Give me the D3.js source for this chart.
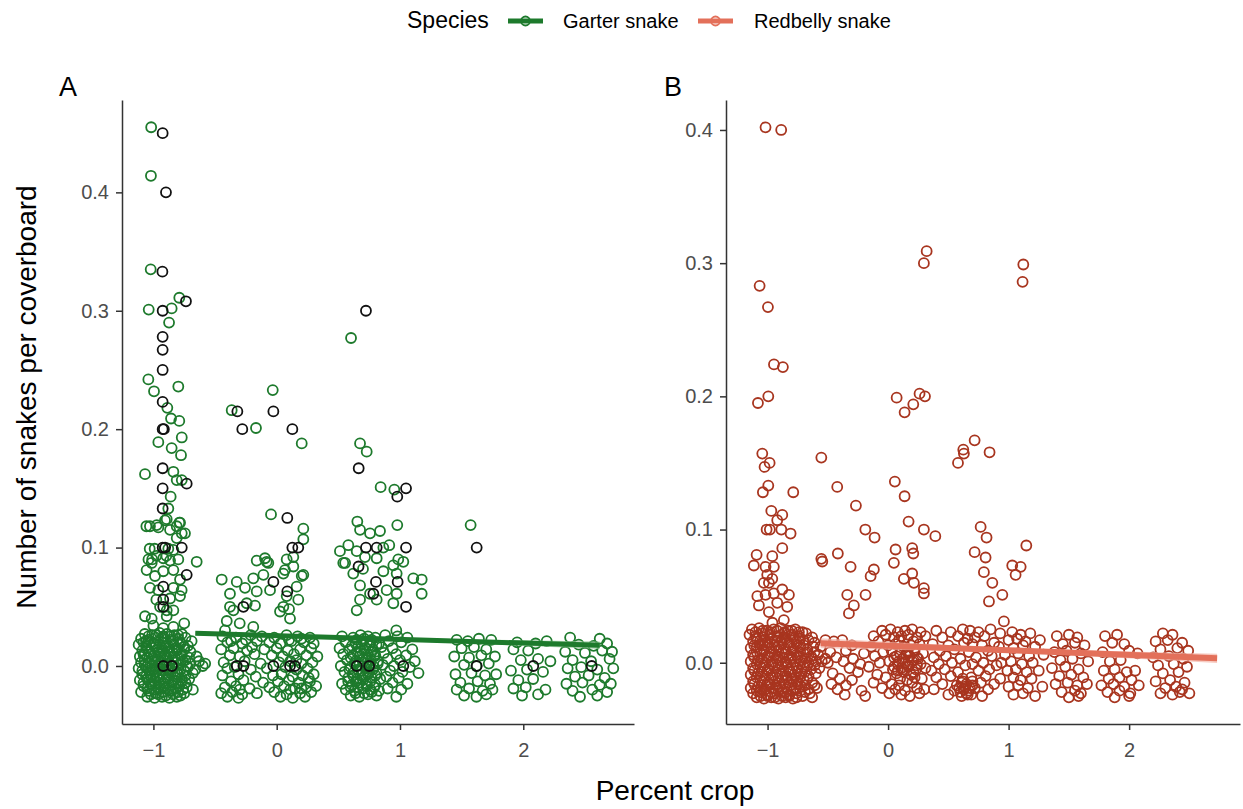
<!DOCTYPE html>
<html><head><meta charset="utf-8">
<script src="https://cdn.jsdelivr.net/npm/d3@7"></script>
<style>body{margin:0;background:#fff;} text{font-family:"Liberation Sans", Arial, sans-serif;}</style>
</head><body><svg id="c" width="1243" height="809"></svg>
<script>
const speciesNames = ["Garter snake", "Redbelly snake"];
const xTickValues = [-1, 0, 1, 2];
const yTickValues = [0.0, 0.1, 0.2, 0.3, 0.4];
const panelTags = ["A", "B"];

// Panel A: garter snake observations (green)
const garterUpper = [
[-1.018,.455],[-1.020,.414],[-1.022,.335],[-1.038,.301],[-0.852,.302],[-0.790,.311],[-0.873,.290],
[-1.041,.242],[-0.798,.236],[-0.995,.232],[-0.887,.218],[-0.857,.209],[-0.790,.207],[-0.770,.193],[-0.960,.189],[-0.852,.184],[-0.776,.178],[-1.068,.162],[-0.838,.164],[-0.811,.157],[-0.770,.157],[-0.860,.143],[-0.879,.133],[-0.906,.123],[-0.790,.121],[-1.028,.118],[-0.960,.117],[-0.811,.118],[-0.744,.112],[-0.811,.108],
[-1.030,.099],[-0.990,.099],[-0.879,.099],[-0.838,.098],[-1.040,.090],[-1.010,.090],[-0.920,.091],[-0.865,.089],[-0.798,.090],[-0.649,.088],
[-1.057,.118],[-0.973,.119],[-0.892,.124],[-0.784,.121],[-0.865,.115],[-0.770,.112],[-0.976,.093],[-0.895,.093],[-1.014,.087],[-1.055,.081],[-0.987,.076],[-0.920,.080],[-0.838,.081],[-0.784,.073],[-1.028,.066],[-0.960,.064],[-0.838,.066],[-0.771,.064],[-0.976,.056],[-0.865,.057],[-0.784,.059],[-1.068,.042],[-1.014,.040],[-0.946,.050],[-0.892,.047],[-0.838,.047],[-0.920,.032],[-0.838,.033],[-0.892,.042],[-0.750,.036],[-1.000,.034],
[-0.365,.216],[-0.032,.233],[-0.168,.201],[0.203,.188],[-0.046,.128],[0.216,.116],[0.216,.107],[-0.162,.089],[-0.095,.091],[-0.068,.087],[0.081,.090],[0.135,.092],
[-0.446,.073],[-0.324,.071],[-0.379,.061],[-0.351,.047],[-0.405,.038],[-0.419,.030],[-0.176,.051],[-0.162,.063],[-0.190,.074],[-0.108,.077],[-0.257,.066],[-0.243,.053],[-0.054,.064],[0.054,.078],[0.135,.084],[0.216,.077],[0.162,.067],[0.081,.059],[0.027,.046],[0.108,.040],[-0.379,.050],[0.067,.081],[0.203,.076],[0.175,.056],[0.054,.050],[-0.190,.033],[-0.081,.088],[0.100,.048],[-0.300,.036],
[0.603,.277],[0.676,.188],[0.730,.181],[0.843,.151],[0.954,.149],[0.654,.122],[0.676,.115],[0.757,.112],[0.838,.114],[0.978,.119],[1.573,.119],[0.581,.102],[0.513,.097],[0.649,.097],[0.716,.092],[0.811,.091],[0.913,.102],[0.865,.100],[0.986,.090],[0.555,.087],
[0.540,.087],[0.621,.078],[0.700,.082],[0.865,.080],[0.946,.085],[0.676,.068],[0.757,.061],[0.892,.064],[0.973,.061],[0.676,.056],[0.649,.047],[0.811,.056],[0.946,.053],[1.108,.074],[1.176,.073],[1.176,.061],[0.973,.078],[1.027,.088],[0.970,.030]
];
const garterLower = [
[-1.07,.027],[-1.01,.026],[-0.95,.028],[-0.89,.027],[-0.83,.026],[-0.77,.027],
[-1.10,.023],[-1.04,.022],[-0.98,.024],[-0.92,.023],[-0.86,.022],[-0.80,.023],[-0.74,.024],[-0.69,.021],
[-1.12,.018],[-1.06,.017],[-1.00,.019],[-0.95,.018],[-0.90,.017],[-0.84,.018],[-0.78,.019],[-0.72,.017],
[-1.09,.013],[-1.03,.012],[-0.97,.014],[-0.92,.013],[-0.87,.012],[-0.81,.013],[-0.75,.014],[-0.70,.012],
[-1.11,.008],[-1.05,.007],[-0.99,.009],[-0.94,.008],[-0.89,.007],[-0.83,.008],[-0.77,.009],[-0.71,.007],[-0.65,.008],
[-1.10,.003],[-1.04,.002],[-0.98,.004],[-0.93,.003],[-0.87,.002],[-0.82,.003],[-0.76,.004],[-0.70,.002],[-0.63,.004],[-0.58,.002],
[-1.12,-.002],[-1.06,-.001],[-1.00,-.003],[-0.95,-.002],[-0.90,-.001],[-0.84,-.002],[-0.78,-.003],[-0.72,-.001],[-0.66,-.003],[-0.60,.000],
[-1.09,-.007],[-1.03,-.006],[-0.97,-.008],[-0.92,-.007],[-0.86,-.006],[-0.80,-.007],[-0.74,-.008],[-0.68,-.006],
[-1.11,-.012],[-1.05,-.011],[-0.99,-.013],[-0.94,-.012],[-0.88,-.011],[-0.83,-.012],[-0.77,-.013],[-0.71,-.011],
[-1.08,-.017],[-1.02,-.016],[-0.96,-.018],[-0.91,-.017],[-0.85,-.016],[-0.79,-.017],[-0.73,-.018],[-0.68,-.020],
[-1.10,-.022],[-1.04,-.021],[-0.98,-.023],[-0.92,-.022],[-0.86,-.021],[-0.80,-.022],[-0.75,-.023],
[-1.05,-.026],[-0.99,-.027],[-0.93,-.026],[-0.87,-.027],[-0.81,-.026],
[-1.06,.021],[-0.96,.011],[-0.85,.005],[-1.02,-.009],[-0.90,-.019],[-0.97,.000],[-0.88,.015],[-1.07,.010],
[-0.44,.025],[-0.33,.024],[-0.21,.026],[-0.12,.025],[-0.02,.024],[0.08,.026],[0.17,.025],[0.27,.024],
[-0.40,.020],[-0.28,.019],[-0.16,.021],[-0.06,.020],[0.03,.019],[0.12,.021],[0.22,.020],[0.30,.019],
[-0.45,.014],[-0.35,.015],[-0.24,.013],[-0.10,.014],[0.00,.015],[0.09,.013],[0.19,.014],[0.28,.015],
[-0.38,.009],[-0.30,.008],[-0.18,.010],[-0.04,.009],[0.05,.008],[0.14,.010],[0.24,.009],[0.33,.008],
[-0.43,.003],[-0.26,.004],[-0.13,.002],[0.02,.003],[0.11,.004],[0.20,.002],[0.29,.003],
[-0.40,-.002],[-0.34,-.001],[-0.21,-.003],[-0.08,-.002],[0.07,-.001],[0.16,-.003],[0.25,-.002],
[-0.44,-.008],[-0.31,-.007],[-0.17,-.009],[-0.03,-.008],[0.04,-.007],[0.13,-.009],[0.21,-.008],[0.30,-.007],
[-0.37,-.013],[-0.27,-.012],[-0.11,-.014],[0.01,-.013],[0.10,-.012],[0.18,-.014],[0.27,-.013],
[-0.42,-.018],[-0.33,-.017],[-0.22,-.019],[-0.06,-.018],[0.06,-.017],[0.15,-.019],[0.24,-.018],[0.32,-.017],
[-0.45,-.023],[-0.36,-.022],[-0.28,-.024],[-0.16,-.023],[-0.02,-.022],[0.08,-.024],[0.19,-.023],[0.28,-.022],
[-0.40,-.026],[-0.31,-.027],[0.03,-.026],[0.13,-.027],[0.23,-.026],
[-0.37,.021],[-0.25,.022],[0.10,.022],[0.20,.023],[-0.30,-.020],[0.11,-.020],[0.20,-.019],[0.16,.005],[0.26,-.010],[-0.20,.016],
[0.53,.025],[0.62,.024],[0.68,.026],[0.74,.025],[0.80,.024],[0.88,.026],[0.98,.025],[1.06,.024],
[0.56,.020],[0.64,.019],[0.70,.021],[0.76,.020],[0.83,.019],[0.91,.021],[1.01,.020],
[0.51,.015],[0.59,.014],[0.66,.016],[0.72,.015],[0.78,.014],[0.85,.016],[0.94,.015],[1.10,.014],
[0.54,.010],[0.62,.009],[0.68,.011],[0.74,.010],[0.80,.009],[0.87,.011],[0.97,.010],[1.05,.009],
[0.57,.005],[0.64,.004],[0.70,.006],[0.76,.005],[0.82,.004],[0.90,.006],[1.00,.005],[1.12,.004],
[0.52,.000],[0.60,-.001],[0.67,.001],[0.73,.000],[0.79,-.001],[0.86,.001],[0.95,.000],[1.08,-.001],
[0.55,-.005],[0.62,-.006],[0.69,-.004],[0.75,-.005],[0.81,-.006],[0.92,-.004],[1.02,-.005],[1.15,-.006],
[0.58,-.010],[0.65,-.011],[0.71,-.009],[0.77,-.010],[0.84,-.011],[0.89,-.009],[0.99,-.010],
[0.53,-.015],[0.61,-.016],[0.67,-.014],[0.73,-.015],[0.80,-.016],[0.94,-.014],[1.06,-.015],
[0.56,-.020],[0.63,-.021],[0.70,-.019],[0.76,-.020],[0.83,-.021],[0.90,-.019],[1.01,-.020],
[0.60,-.025],[0.67,-.026],[0.74,-.024],[0.81,-.025],[0.97,-.026],
[1.46,.022],[1.55,.021],[1.64,.023],[1.74,.022],[1.50,.015],[1.60,.016],[1.70,.014],
[1.44,.008],[1.56,.007],[1.66,.009],[1.77,.008],[1.52,.001],[1.62,.000],[1.72,.002],
[1.45,-.007],[1.58,-.006],[1.69,-.008],[1.78,-.007],[1.49,-.014],[1.63,-.013],[1.73,-.015],
[1.46,-.020],[1.56,-.019],[1.67,-.021],[1.75,-.020],[1.52,-.025],[1.62,-.026],[1.70,-.024],
[1.95,.020],[2.10,.019],[2.19,.021],[1.92,.014],[2.04,.013],[1.98,.005],[2.12,.006],[2.22,.004],
[1.90,-.004],[2.03,-.003],[2.16,-.005],[1.96,-.012],[2.08,-.011],[1.92,-.019],[2.02,-.018],[2.18,-.020],
[1.99,-.025],[2.12,-.024],
[2.38,.024],[2.62,.023],[2.45,.018],[2.57,.017],[2.68,.019],[2.34,.012],[2.50,.011],[2.64,.013],[2.72,.012],
[2.40,.005],[2.55,.004],[2.70,.006],[2.36,-.002],[2.47,-.001],[2.60,-.003],[2.73,-.002],
[2.42,-.009],[2.53,-.008],[2.66,-.010],[2.35,-.015],[2.48,-.014],[2.62,-.016],[2.71,-.015],
[2.40,-.021],[2.56,-.020],[2.68,-.022],[2.46,-.026],[2.60,-.025]
];
// denser cores of the zero-count groups in panel A
const garterDense = [
[-1.04,.025],[-0.98,.026],[-0.92,.025],[-0.86,.025],[-0.80,.026],
[-1.08,.020],[-1.02,.020],[-0.96,.021],[-0.90,.020],[-0.84,.021],[-0.78,.020],
[-1.05,.015],[-0.99,.016],[-0.93,.015],[-0.87,.016],[-0.81,.015],[-0.75,.016],
[-1.08,.010],[-1.02,.010],[-0.94,.011],[-0.90,.010],[-0.84,.011],[-0.78,.010],
[-1.07,.005],[-1.01,.006],[-0.96,.005],[-0.91,.005],[-0.80,.006],[-0.74,.005],
[-1.07,.001],[-1.01,.000],[-0.95,.001],[-0.89,.001],[-0.84,.000],[-0.79,.001],[-0.73,.000],
[-1.09,-.004],[-1.03,-.004],[-0.98,-.005],[-0.92,-.004],[-0.87,-.004],[-0.81,-.005],[-0.75,-.004],
[-1.06,-.009],[-1.00,-.010],[-0.95,-.009],[-0.89,-.010],[-0.83,-.009],[-0.77,-.010],
[-1.08,-.014],[-1.02,-.015],[-0.96,-.014],[-0.91,-.015],[-0.85,-.014],[-0.80,-.015],[-0.74,-.014],
[-1.05,-.019],[-0.99,-.020],[-0.94,-.019],[-0.88,-.020],[-0.82,-.019],[-0.76,-.020],
[-1.02,-.024],[-0.96,-.024],[-0.90,-.025],[-0.84,-.024],[-0.78,-.025],
[0.65,.022],[0.71,.023],[0.77,.022],[0.61,.017],[0.69,.018],[0.75,.017],[0.81,.018],
[0.65,.012],[0.71,.013],[0.77,.012],[0.60,.007],[0.67,.008],[0.73,.007],[0.79,.008],
[0.63,.002],[0.70,.003],[0.76,.002],[0.82,.002],[0.59,-.003],[0.66,-.003],[0.72,-.002],[0.78,-.003],
[0.62,-.008],[0.68,-.008],[0.74,-.007],[0.80,-.008],[0.58,-.013],[0.64,-.013],[0.70,-.012],[0.76,-.013],
[0.60,-.018],[0.66,-.018],[0.73,-.017],[0.79,-.018],[0.64,-.023],[0.71,-.023],[0.77,-.022]
];
// Panel A: highlighted observations (black)
const garterHighlight = [
[-0.925,.450],[-0.898,.400],[-0.927,.333],[-0.925,.300],[-0.736,.308],[-0.925,.278],[-0.925,.267],[-0.925,.250],[-0.925,.223],[-0.925,.200],[-0.915,.200],[-0.730,.154],[-0.925,.167],[-0.925,.150],[-0.925,.133],[-0.925,.100],[-0.770,.100],[-0.905,.100],[-0.730,.077],[-0.920,.067],[-0.920,.056],[-0.920,.050],
[-0.319,.215],[-0.027,.215],[-0.279,.200],[0.127,.200],[0.086,.125],[0.127,.100],[0.175,.100],[-0.270,.050],[-0.027,.071],[0.086,.063],
[0.724,.300],[0.665,.167],[1.049,.150],[0.978,.143],[0.724,.100],[0.811,.100],[1.049,.100],[1.622,.100],[0.664,.084],[0.805,.071],[0.784,.061],[0.981,.071],[1.049,.050],
[-0.324,.000],[-0.270,.000],[-0.027,.000],[0.108,.000],[0.148,.000],[0.649,.000],[0.750,.000],[1.027,.000],[1.622,.000],[2.081,.000],[2.555,.000],[-0.920,.000],[-0.850,.000]
];
// Panel B: redbelly snake observations
const redbellyUpper = [
[-1.017,.402],[-0.887,.400],[0.320,.309],[0.297,.300],[1.122,.299],[1.116,.286],[-1.066,.283],[-0.997,.267],[-0.947,.224],[-0.873,.222],[-1.080,.195],[-0.994,.200],[0.071,.199],[0.261,.202],[0.306,.200],[0.209,.194],[0.137,.188],[-1.044,.157],[-0.983,.150],[-1.025,.147],[-0.554,.154],[0.718,.167],[0.624,.160],[0.629,.157],[0.580,.150],[0.842,.158],[-0.994,.133],[-1.039,.128],[-0.787,.128],[-0.422,.132],[-0.267,.118],[0.056,.136],[0.137,.125],[-0.969,.114],[-0.878,.111],[-0.920,.107],[-1.008,.100],[-0.981,.100],[-0.886,.100],[-0.809,.097],[0.170,.106],[-0.189,.100],[-0.112,.094],[0.297,.100],[0.392,.095],[0.768,.102],[0.817,.094],[1.147,.088],[-0.878,.086],[-1.091,.081],[-0.961,.080],[-0.417,.082],[-0.554,.078],[0.062,.085],[0.200,.086],[0.209,.082],[0.718,.083],[0.809,.079],
[-1.114,.073],[-1.017,.072],[-0.948,.072],[-1.003,.066],[-0.961,.063],[-1.031,.060],[-0.989,.060],[-1.085,.050],[-1.017,.051],[-0.948,.052],[-0.878,.055],[-0.823,.051],[-1.072,.043],[-0.989,.038],[-0.920,.045],[-0.837,.042],[-0.865,.032],[-0.546,.076],[-0.311,.072],[-0.118,.070],[-0.145,.065],[0.048,.075],[0.131,.063],[0.200,.067],[0.214,.060],[0.297,.056],[0.297,.052],[-0.339,.051],[-0.187,.051],[-0.284,.043],[-0.325,.037],[0.795,.068],[0.865,.060],[0.948,.051],[0.837,.046],[1.030,.073],[1.100,.072],[1.058,.066],[0.961,.031],[-0.960,.030]
];
const redbellyLower = [
[-1.13,.025],[-1.07,.026],[-1.01,.024],[-0.95,.025],[-0.89,.026],[-0.83,.024],[-0.77,.025],[-0.71,.023],
[-1.15,.021],[-1.10,.020],[-1.04,.022],[-0.98,.021],[-0.92,.020],[-0.86,.022],[-0.80,.021],[-0.74,.020],[-0.68,.022],[-0.63,.019],
[-1.12,.016],[-1.06,.017],[-1.00,.015],[-0.94,.016],[-0.88,.017],[-0.82,.015],[-0.76,.016],[-0.70,.017],[-0.61,.015],
[-1.14,.011],[-1.09,.012],[-1.03,.010],[-0.97,.011],[-0.91,.012],[-0.85,.010],[-0.79,.011],[-0.73,.012],[-0.67,.010],[-0.56,.012],
[-1.12,.006],[-1.06,.007],[-1.00,.005],[-0.94,.006],[-0.88,.007],[-0.82,.005],[-0.76,.006],[-0.70,.007],[-0.64,.005],[-0.58,.006],
[-1.14,.001],[-1.08,.002],[-1.02,.000],[-0.96,.001],[-0.90,.002],[-0.84,.000],[-0.78,.001],[-0.72,.002],[-0.66,.000],[-0.60,.001],[-0.52,.003],
[-1.12,-.004],[-1.06,-.003],[-1.00,-.005],[-0.94,-.004],[-0.88,-.003],[-0.82,-.005],[-0.76,-.004],[-0.70,-.003],[-0.64,-.005],[-0.57,-.004],
[-1.14,-.009],[-1.08,-.008],[-1.02,-.010],[-0.96,-.009],[-0.90,-.008],[-0.84,-.010],[-0.78,-.009],[-0.72,-.008],[-0.66,-.010],
[-1.12,-.014],[-1.06,-.013],[-1.00,-.015],[-0.94,-.014],[-0.88,-.013],[-0.82,-.015],[-0.76,-.014],[-0.70,-.013],[-0.63,-.015],
[-1.14,-.019],[-1.08,-.018],[-1.02,-.020],[-0.96,-.019],[-0.90,-.018],[-0.84,-.020],[-0.78,-.019],[-0.72,-.018],[-0.66,-.020],[-0.59,-.019],
[-1.12,-.023],[-1.06,-.022],[-1.00,-.024],[-0.94,-.023],[-0.88,-.022],[-0.82,-.024],[-0.76,-.023],[-0.69,-.022],
[-1.09,-.026],[-1.03,-.027],[-0.97,-.026],[-0.91,-.027],[-0.85,-.026],[-0.79,-.027],[-0.63,-.026],
[-1.04,.013],[-0.92,.004],[-0.80,-.012],[-0.98,-.016],[-0.86,.019],
[-0.05,.024],[0.02,.025],[0.08,.023],[0.14,.024],[0.20,.025],[0.27,.023],
[-0.12,.020],[-0.02,.021],[0.05,.019],[0.11,.020],[0.17,.021],[0.24,.019],[0.31,.020],
[-0.52,.017],[-0.45,.016],[-0.38,.017],[-0.08,.016],[0.09,.017],[0.21,.016],
[-0.30,.013],[-0.14,.012],[0.00,.013],[0.06,.014],[0.13,.012],[0.19,.013],[0.26,.014],
[-0.48,.008],[-0.35,.009],[-0.20,.007],[-0.04,.008],[0.03,.009],[0.10,.007],[0.16,.008],[0.22,.009],[0.29,.007],
[-0.43,.004],[-0.29,.003],[-0.11,.005],[0.05,.004],[0.12,.003],[0.18,.005],[0.24,.004],
[-0.50,.000],[-0.37,.001],[-0.23,-.001],[-0.07,.000],[0.01,.001],[0.08,-.001],[0.14,.000],[0.20,.001],[0.27,-.001],
[-0.32,-.004],[-0.16,-.003],[0.04,-.005],[0.11,-.004],[0.17,-.003],[0.23,-.005],[0.31,-.004],
[-0.46,-.008],[-0.25,-.007],[-0.09,-.009],[0.07,-.008],[0.13,-.007],[0.19,-.009],
[-0.40,-.012],[-0.30,-.013],[-0.02,-.011],[0.10,-.012],[0.16,-.013],[0.22,-.011],[0.28,-.012],
[-0.47,-.016],[-0.35,-.017],[-0.12,-.015],[0.03,-.016],[0.09,-.017],[0.20,-.015],
[-0.42,-.020],[-0.22,-.021],[-0.05,-.019],[0.06,-.020],[0.14,-.021],[0.24,-.019],[0.30,-.020],
[-0.36,-.024],[-0.19,-.025],[0.01,-.023],[0.11,-.024],[0.18,-.025],[0.26,-.023],
[0.40,.024],[0.52,.023],[0.62,.025],[0.68,.024],[0.75,.023],[0.85,.025],
[0.45,.019],[0.58,.020],[0.66,.018],[0.72,.019],[0.80,.020],
[0.37,.014],[0.50,.013],[0.63,.015],[0.70,.014],[0.78,.013],[0.88,.015],
[0.43,.009],[0.55,.010],[0.67,.008],[0.83,.009],
[0.38,.004],[0.48,.005],[0.60,.003],[0.73,.004],[0.86,.005],
[0.42,-.001],[0.53,.000],[0.64,-.002],[0.70,-.001],[0.79,.000],[0.90,-.002],
[0.36,-.006],[0.47,-.005],[0.58,-.007],[0.75,-.006],[0.84,-.005],
[0.40,-.011],[0.52,-.010],[0.62,-.012],[0.69,-.011],[0.81,-.010],
[0.45,-.016],[0.57,-.017],[0.61,-.015],[0.65,-.016],[0.70,-.017],[0.77,-.015],[0.88,-.016],
[0.38,-.020],[0.55,-.021],[0.59,-.019],[0.63,-.020],[0.67,-.021],[0.72,-.019],[0.83,-.020],
[0.50,-.024],[0.61,-.025],[0.65,-.023],[0.69,-.024],[0.78,-.025],
[0.93,.022],[1.03,.023],[1.10,.021],[1.18,.022],[1.00,.017],[1.07,.018],[1.14,.016],[1.26,.017],
[0.92,.012],[1.04,.011],[1.12,.013],[1.22,.012],[0.97,.006],[1.08,.007],[1.17,.005],[1.29,.006],
[0.94,.000],[1.02,.001],[1.11,-.001],[1.20,.000],[0.99,-.006],[1.06,-.005],[1.15,-.007],[1.25,-.006],
[0.93,-.012],[1.04,-.011],[1.10,-.013],[1.19,-.012],[1.00,-.018],[1.08,-.017],[1.16,-.019],[1.28,-.018],
[1.04,-.024],[1.12,-.023],[1.22,-.025],
[1.40,.020],[1.50,.021],[1.57,.019],[1.45,.014],[1.55,.015],[1.63,.013],[1.38,.008],[1.48,.009],[1.60,.007],
[1.43,.002],[1.53,.003],[1.66,.001],[1.36,-.004],[1.47,-.003],[1.58,-.005],[1.42,-.010],[1.52,-.009],[1.62,-.011],
[1.39,-.016],[1.49,-.015],[1.57,-.017],[1.65,-.016],[1.44,-.022],[1.55,-.021],[1.60,-.023],[1.50,-.026],[1.58,-.025],
[1.80,.020],[1.90,.021],[1.86,.015],[1.96,.014],[1.78,.008],[2.00,.009],[2.07,.007],[1.84,.001],[1.93,.002],
[1.79,-.006],[1.88,-.005],[1.98,-.007],[2.05,-.006],[1.83,-.012],[1.92,-.011],[2.02,-.013],
[1.77,-.017],[1.87,-.016],[1.96,-.018],[2.08,-.017],[1.82,-.022],[1.92,-.021],[2.01,-.023],[1.88,-.026],[2.00,-.025],
[2.28,.022],[2.36,.021],[2.22,.016],[2.32,.017],[2.44,.015],[2.26,.010],[2.40,.011],[2.49,.009],
[2.20,.004],[2.33,.005],[2.45,.003],[2.24,-.002],[2.37,-.001],[2.48,-.003],[2.28,-.008],[2.41,-.007],
[2.22,-.014],[2.34,-.013],[2.46,-.015],[2.30,-.019],[2.39,-.018],[2.44,-.020],[2.26,-.023],[2.36,-.024],[2.42,-.022],[2.50,-.023]
];
// denser cores of the zero-count groups in panel B
const redbellyDense = [
[-1.10,.023],[-1.04,.024],[-0.98,.023],[-0.92,.024],[-0.86,.023],[-0.80,.024],[-0.74,.023],
[-1.09,.018],[-1.03,.019],[-0.97,.018],[-0.91,.019],[-0.85,.018],[-0.79,.019],[-0.73,.018],[-0.66,.017],
[-1.11,.013],[-1.06,.014],[-1.00,.013],[-0.94,.013],[-0.88,.014],[-0.82,.013],[-0.76,.014],[-0.70,.013],[-0.62,.012],
[-1.09,.008],[-1.03,.009],[-0.97,.008],[-0.91,.009],[-0.85,.008],[-0.79,.009],[-0.73,.008],[-0.67,.008],[-0.61,.008],
[-1.11,.004],[-1.05,.003],[-0.99,.004],[-0.93,.003],[-0.87,.004],[-0.81,.003],[-0.75,.004],[-0.69,.003],[-0.63,.003],[-0.55,.001],
[-1.09,-.001],[-1.03,-.002],[-0.97,-.001],[-0.91,-.002],[-0.85,-.001],[-0.79,-.002],[-0.73,-.001],[-0.67,-.002],[-0.61,-.002],
[-1.11,-.006],[-1.05,-.007],[-0.99,-.006],[-0.93,-.007],[-0.87,-.006],[-0.81,-.007],[-0.75,-.006],[-0.69,-.007],[-0.60,-.008],
[-1.09,-.011],[-1.03,-.012],[-0.97,-.011],[-0.91,-.012],[-0.85,-.011],[-0.79,-.012],[-0.73,-.011],[-0.67,-.012],
[-1.11,-.016],[-1.05,-.017],[-0.99,-.016],[-0.93,-.017],[-0.87,-.016],[-0.81,-.017],[-0.75,-.016],[-0.69,-.017],[-0.61,-.017],
[-1.09,-.021],[-1.03,-.021],[-0.97,-.022],[-0.91,-.021],[-0.85,-.022],[-0.79,-.021],[-0.73,-.021],[-0.65,-.023],
[-1.06,-.025],[-1.00,-.025],[-0.94,-.026],[-0.88,-.025],[-0.82,-.025],[-0.76,-.026],[-0.71,-.025],
[0.07,.005],[0.15,.006],[0.21,.002],[0.09,.001],[0.17,-.002],[0.25,.003],[0.05,-.003],[0.13,-.005],[0.21,-.007],[0.08,-.006],[0.16,.009],[0.24,-.002],
[0.60,-.022],[0.64,-.018],[0.68,-.019],[0.62,-.014],[0.66,-.024],[0.70,-.014]
];
// fitted trend lines: [x, fit, lower, upper]
const garterFit = [[-0.66,.0276,.0258,.0294],[0.5,.0240,.0229,.0251],[1.5,.0209,.0192,.0226],[2.62,.0175,.0143,.0207]];
const redbellyFit = [[-0.56,.0146,.0108,.0184],[1.0,.0094,.0079,.0109],[2.73,.0033,-.0002,.0068]];

const COL = {green:"#1d7a2c", black:"#111111", red:"#a8351f", redLine:"#e3705a", redBand:"#f3b6a9", greenBand:"#8fc394", axis:"#333333", tick:"#4d4d4d"};

const svg = d3.select("#c");

function drawPanel(cfg) {
  const x = d3.scaleLinear().domain(cfg.xDomain).range([cfg.left, cfg.right]);
  const y = d3.scaleLinear().domain(cfg.yDomain).range([cfg.bottom, cfg.top]);
  const g = svg.append("g");
  cfg.layers.forEach(layer => {
    g.append("g").selectAll("circle").data(layer.data).join("circle")
      .attr("cx", d => x(d[0])).attr("cy", d => y(d[1])).attr("r", 5)
      .attr("fill", "none").attr("stroke", layer.color).attr("stroke-width", 1.8);
  });
  g.append("path").datum(cfg.fit)
    .attr("d", d3.area().x(d => x(d[0])).y0(d => y(d[2])).y1(d => y(d[3])))
    .attr("fill", cfg.bandColor).attr("opacity", 0.7);
  g.append("path").datum(cfg.fit)
    .attr("d", d3.line().x(d => x(d[0])).y(d => y(d[1])))
    .attr("fill", "none").attr("stroke", cfg.lineColor).attr("stroke-width", cfg.lineWidth);
  const xa = g.append("g").attr("transform", `translate(0,${cfg.bottom})`)
    .call(d3.axisBottom(x).tickValues(xTickValues).tickFormat(d3.format("d")).tickSize(6).tickPadding(8).tickSizeOuter(0));
  const ya = g.append("g").attr("transform", `translate(${cfg.left},0)`)
    .call(d3.axisLeft(y).tickValues(yTickValues).tickFormat(d3.format(".1f")).tickSize(6).tickPadding(7).tickSizeOuter(0));
  [xa, ya].forEach(a => {
    a.select(".domain").attr("stroke", COL.axis).attr("stroke-width", 1.5);
    a.selectAll(".tick line").attr("stroke", COL.axis).attr("stroke-width", 1.5);
    a.selectAll(".tick text").attr("fill", COL.tick).style("font-size", "20px").style("font-family", '"Liberation Sans", Arial, sans-serif');
  });
  xa.selectAll(".tick text").attr("dy", "0.95em");
  g.append("text").attr("x", cfg.tagX).attr("y", 96).text(cfg.tag)
    .style("font-size", "27px").attr("fill", "#000");
}

drawPanel({left:122, right:634, top:100, bottom:724, xDomain:[-1.2547, 2.898], yDomain:[-0.049, 0.478],
  layers:[{data:garterUpper.concat(garterLower, garterDense), color:COL.green},{data:garterHighlight, color:COL.black}],
  fit:garterFit, lineColor:COL.green, bandColor:COL.greenBand, lineWidth:5, tag:panelTags[0], tagX:59});
drawPanel({left:726, right:1240, top:100, bottom:724, xDomain:[-1.345, 2.92], yDomain:[-0.046, 0.4225],
  layers:[{data:redbellyUpper.concat(redbellyLower, redbellyDense), color:COL.red}],
  fit:redbellyFit, lineColor:COL.redLine, bandColor:COL.redBand, lineWidth:6, tag:panelTags[1], tagX:664});

svg.append("text").attr("x", 675).attr("y", 800).attr("text-anchor", "middle")
  .style("font-size", "28px").text("Percent crop");
svg.append("text").attr("transform", "translate(36,397) rotate(-90)").attr("text-anchor", "middle")
  .style("font-size", "28px").text("Number of snakes per coverboard");

const leg = svg.append("g");
leg.append("text").attr("x", 407).attr("y", 28).style("font-size", "23px").text("Species");
const keys = [{name:speciesNames[0], line:COL.green, pt:COL.green, x0:508, tx:563},
              {name:speciesNames[1], line:COL.redLine, pt:COL.redLine, x0:698, tx:754}];
keys.forEach(k => {
  leg.append("line").attr("x1", k.x0).attr("x2", k.x0 + 35).attr("y1", 21).attr("y2", 21)
    .attr("stroke", k.line).attr("stroke-width", 5);
  leg.append("circle").attr("cx", k.x0 + 17.5).attr("cy", 21).attr("r", 4.5)
    .attr("fill", "none").attr("stroke", k.pt).attr("stroke-width", 1.8);
  leg.append("text").attr("x", k.tx).attr("y", 28).style("font-size", "20px").text(k.name);
});
</script></body></html>
